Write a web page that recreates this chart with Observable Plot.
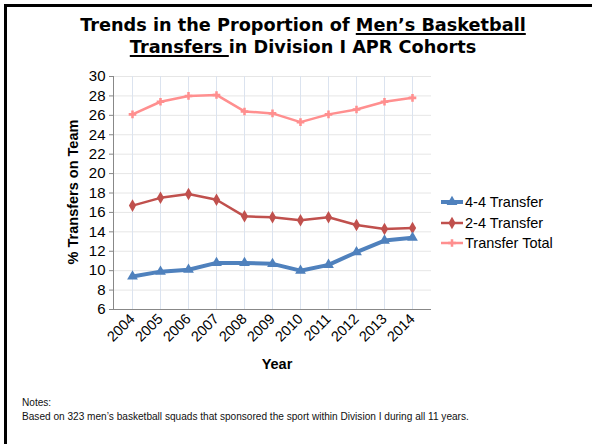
<!DOCTYPE html>
<html>
<head>
<meta charset="utf-8">
<script src="https://cdn.jsdelivr.net/npm/d3@7"></script>
<script src="https://cdn.jsdelivr.net/npm/@observablehq/plot@0.6"></script>
<style>
  html, body { margin: 0; padding: 0; background: #fff; }
  #page { position: relative; width: 592px; height: 444px; overflow: hidden; font-family: "Liberation Sans", Arial, sans-serif; color: #000; }
  #edge { position: absolute; left: 4px; top: 4px; right: 0; bottom: 0; border-top: 3px solid #000; border-left: 3px solid #000; }
  #title { position: absolute; left: 0; width: 606px; top: 14px; text-align: center; font-family: "DejaVu Sans", Verdana, sans-serif; font-weight: bold; font-size: 17.7px; line-height: 22px; }
  #title u { text-decoration-thickness: 1.5px; text-underline-offset: 2px; }
  #chart { position: absolute; left: 0; top: 60px; }
  #ylabel { position: absolute; left: 73px; top: 192px; transform: translate(-50%, -50%) rotate(-90deg); white-space: nowrap; font-weight: bold; font-size: 14.5px; }
  #xlabel { position: absolute; left: 277px; top: 364px; transform: translate(-50%, -50%); font-weight: bold; font-size: 14.5px; }
  #legend { position: absolute; left: 440px; top: 192px; }
  .item { display: flex; align-items: center; height: 20.5px; font-size: 14.5px; white-space: nowrap; }
  .item svg { display: block; margin-right: 1px; }
  #notes { position: absolute; left: 22px; top: 396px; font-size: 10.1px; line-height: 14px; color: #111; }
</style>
</head>
<body>
<div id="page">
  <div id="edge"></div>
  <div id="title">Trends in the Proportion of <u>Men’s Basketball</u><br><u>Transfers </u>in Division I APR Cohorts</div>
  <div id="chart"></div>
  <div id="ylabel">% Transfers on Team</div>
  <div id="xlabel">Year</div>
  <div id="legend"></div>
  <div id="notes">Notes:<br>Based on 323 men’s basketball squads that sponsored the sport within Division I during all 11 years.</div>
</div>
<script>
// Cohort years and the share of transfers on each team (%)
const years = ["2004", "2005", "2006", "2007", "2008", "2009", "2010", "2011", "2012", "2013", "2014"];
const fourFour = [9.4, 9.9, 10.1, 10.8, 10.8, 10.7, 10.0, 10.6, 11.9, 13.1, 13.4];
const twoFour = [16.7, 17.5, 17.9, 17.3, 15.6, 15.5, 15.2, 15.5, 14.7, 14.3, 14.4];
const transferTotal = [26.1, 27.4, 28.0, 28.1, 26.4, 26.2, 25.3, 26.1, 26.6, 27.4, 27.8];
const seriesNames = ["4-4 Transfer", "2-4 Transfer", "Transfer Total"];
const yTicks = d3.range(6, 31, 2);

// Drawing style for each series
const styles = {
  "4-4 Transfer": { color: "#4F81BD", width: 4, symbol: "triangle", r: 4 },
  "2-4 Transfer": { color: "#C0504D", width: 2.5, symbol: "diamond", r: 3.8 },
  "Transfer Total": { color: "#FF8F8F", width: 2.5, symbol: "cross", r: 3.2 }
};

const valuesBySeries = [fourFour, twoFour, transferTotal];
const rows = seriesNames.flatMap((s, i) =>
  years.map((year, j) => ({ series: s, year, value: valuesBySeries[i][j] }))
);

// Draw the total first so the 4-4 line sits on top
const drawOrder = ["Transfer Total", "2-4 Transfer", "4-4 Transfer"];
const seriesMarks = drawOrder.flatMap(s => {
  const st = styles[s];
  const data = rows.filter(d => d.series === s);
  return [
    Plot.line(data, { x: "year", y: "value", stroke: st.color, strokeWidth: st.width, strokeLinejoin: "round" }),
    Plot.dot(data, { x: "year", y: "value", symbol: () => st.symbol, fill: st.color, r: st.r, stroke: "none" })
  ];
});

const chart = Plot.plot({
  width: 592,
  height: 320,
  marginTop: 16,
  marginBottom: 71,
  marginLeft: 113,
  marginRight: 161,
  style: { fontFamily: "'Liberation Sans', Arial, sans-serif", color: "#000", background: "transparent", overflow: "visible" },
  x: { type: "point", domain: years, padding: 0.5 },
  y: { domain: [6, 30] },
  symbol: { type: "identity" },
  marks: [
    Plot.ruleY(yTicks.filter(t => t > 6), { stroke: "#e6e6e6", strokeWidth: 1 }),
    Plot.ruleX(years, { stroke: "#dbe3ef", strokeWidth: 1 }),
    Plot.axisY({ ticks: yTicks, tickSize: 4, tickPadding: 4, fontSize: 15, label: null, stroke: "#888" }),
    Plot.axisX({ tickRotate: -45, tickSize: 0, tickPadding: 7, fontSize: 14.5, label: null }),
    Plot.ruleY([6], { stroke: "#888", strokeWidth: 1 }),
    Plot.frame({ anchor: "left", stroke: "#888" }),
    ...seriesMarks
  ]
});
document.getElementById("chart").appendChild(chart);

// Legend: a short line with the series marker, then its name
const legend = d3.select("#legend");
const typeMap = { triangle: d3.symbolTriangle, diamond: d3.symbolDiamond, cross: d3.symbolCross };
for (const s of seriesNames) {
  const st = styles[s];
  const item = legend.append("div").attr("class", "item");
  const sw = item.append("svg").attr("width", 24).attr("height", 14);
  sw.append("line").attr("x1", 1).attr("x2", 23).attr("y1", 7).attr("y2", 7)
    .attr("stroke", st.color).attr("stroke-width", st.width);
  sw.append("path")
    .attr("transform", "translate(12,7)")
    .attr("d", d3.symbol(typeMap[st.symbol], Math.PI * st.r * st.r)())
    .attr("fill", st.color);
  item.append("span").text(s);
}
</script>
</body>
</html>
